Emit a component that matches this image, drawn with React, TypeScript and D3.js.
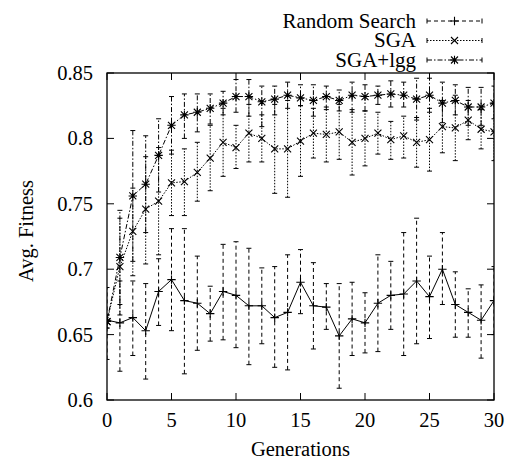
import React from "react";
import * as d3 from "d3";

const generations = [0,1,2,3,4,5,6,7,8,9,10,11,12,13,14,15,16,17,18,19,20,21,22,23,24,25,26,27,28,29,30];

const randomMean = [0.661,0.659,0.663,0.653,0.683,0.692,0.676,0.674,0.666,0.683,0.680,0.672,0.672,0.663,0.667,0.690,0.672,0.671,0.649,0.662,0.659,0.674,0.680,0.681,0.691,0.679,0.700,0.673,0.667,0.661,0.676];
const randomLow = [0.631,0.622,0.634,0.616,0.657,0.653,0.620,0.638,0.645,0.646,0.640,0.627,0.643,0.625,0.623,0.666,0.639,0.654,0.609,0.634,0.636,0.637,0.654,0.634,0.643,0.647,0.673,0.648,0.648,0.632,0.650];
const randomHigh = [0.686,0.691,0.691,0.689,0.708,0.731,0.731,0.710,0.687,0.719,0.721,0.716,0.701,0.702,0.711,0.715,0.705,0.689,0.689,0.690,0.682,0.711,0.706,0.728,0.739,0.710,0.728,0.698,0.685,0.688,0.702];

const sgaMean = [0.660,0.702,0.729,0.746,0.752,0.766,0.767,0.774,0.785,0.797,0.793,0.804,0.800,0.792,0.792,0.798,0.804,0.803,0.805,0.797,0.800,0.804,0.799,0.802,0.797,0.799,0.809,0.808,0.814,0.807,0.805];
const sgaLow = [0.655,0.665,0.695,0.704,0.711,0.741,0.741,0.752,0.760,0.771,0.777,0.782,0.782,0.758,0.755,0.771,0.785,0.782,0.784,0.772,0.779,0.788,0.784,0.785,0.778,0.775,0.789,0.783,0.799,0.792,0.783];
const sgaHigh = [0.665,0.739,0.762,0.786,0.793,0.791,0.792,0.797,0.810,0.823,0.810,0.826,0.818,0.826,0.829,0.825,0.823,0.824,0.826,0.822,0.821,0.820,0.813,0.817,0.816,0.823,0.829,0.833,0.829,0.822,0.827];

const lggMean = [0.660,0.709,0.756,0.765,0.787,0.810,0.818,0.820,0.823,0.827,0.832,0.832,0.828,0.830,0.833,0.831,0.829,0.832,0.829,0.833,0.832,0.833,0.834,0.833,0.830,0.833,0.827,0.829,0.824,0.824,0.827];
const lggLow = [0.655,0.673,0.706,0.728,0.759,0.788,0.800,0.805,0.811,0.818,0.820,0.817,0.809,0.818,0.823,0.825,0.817,0.822,0.821,0.820,0.821,0.826,0.824,0.824,0.814,0.820,0.812,0.818,0.810,0.810,0.815];
const lggHigh = [0.665,0.745,0.806,0.802,0.815,0.832,0.834,0.834,0.834,0.836,0.845,0.845,0.840,0.840,0.843,0.841,0.841,0.840,0.837,0.843,0.841,0.840,0.844,0.843,0.846,0.846,0.843,0.841,0.839,0.839,0.840];

const xTicks = [0, 5, 10, 15, 20, 25, 30];
const yTicks = [0.6, 0.65, 0.7, 0.75, 0.8, 0.85];
const yTickLabels = ["0.6", "0.65", "0.7", "0.75", "0.8", "0.85"];
const seriesNames = ["Random Search", "SGA", "SGA+lgg"];

const W = 505, H = 459;
const L = 107, R = 494, T = 73, B = 400;
const FONT = '"Liberation Serif", "Times New Roman", serif';
const FS = 20.5;

type Series = { name: string; mean: number[]; low: number[]; high: number[]; marker: string; lineDash: string | null; barDash: string; };

const series: Series[] = [
  { name: seriesNames[0], mean: randomMean, low: randomLow, high: randomHigh, marker: "plus", lineDash: null, barDash: "4,3" },
  { name: seriesNames[1], mean: sgaMean, low: sgaLow, high: sgaHigh, marker: "cross", lineDash: "1.5,1.5", barDash: "1.5,1.5" },
  { name: seriesNames[2], mean: lggMean, low: lggLow, high: lggHigh, marker: "star", lineDash: "5,2,1.5,2", barDash: "5,2,1.5,2" },
];

function Marker({ type, cx, cy }: { type: string; cx: number; cy: number }) {
  const s = 4.2, c = 3.5;
  const plus = `M${cx - s},${cy}H${cx + s}M${cx},${cy - s}V${cy + s}`;
  const cross = `M${cx - c},${cy - c}L${cx + c},${cy + c}M${cx - c},${cy + c}L${cx + c},${cy - c}`;
  let d = plus;
  if (type === "cross") d = cross;
  if (type === "star") d = plus + cross;
  return <path d={d} stroke="#000" strokeWidth={1.1} fill="none" />;
}

export default function App() {
  const x = d3.scaleLinear().domain([0, 30]).range([L, R]);
  const y = d3.scaleLinear().domain([0.6, 0.85]).range([B, T]);
  const tl = 7;
  const cap = 2.5;

  const line = (vals: number[]) =>
    d3.line<number>().x((_, i) => x(generations[i])).y((v) => y(v))(vals) || "";

  const legendX0 = 427, legendX1 = 482, legendTextX = 416;
  const legendY = [21, 40.5, 60];

  return (
    <svg width={W} height={H} style={{ position: "absolute", left: 0, top: 0, background: "#fff" }} fontFamily={FONT}>
      <rect x={0} y={0} width={W} height={H} fill="#fff" />
      <defs>
        <clipPath id="plotclip">
          <rect x={L} y={T} width={R - L} height={B - T} />
        </clipPath>
      </defs>

      <g clipPath="url(#plotclip)">
        {series.map((s, si) => (
          <g key={si}>
            {generations.map((g, i) => {
              const gx = x(g);
              return (
                <g key={i} stroke="#000" strokeWidth={1} fill="none">
                  <path d={`M${gx},${y(s.low[i])}V${y(s.high[i])}`} strokeDasharray={s.barDash} />
                  <path d={`M${gx - cap},${y(s.low[i])}H${gx + cap}M${gx - cap},${y(s.high[i])}H${gx + cap}`} />
                </g>
              );
            })}
            <path d={line(s.mean)} stroke="#000" strokeWidth={1} fill="none" strokeDasharray={s.lineDash ?? undefined} />
            {generations.map((g, i) => (
              <Marker key={i} type={s.marker} cx={x(g)} cy={y(s.mean[i])} />
            ))}
          </g>
        ))}
      </g>

      <rect x={L} y={T} width={R - L} height={B - T} fill="none" stroke="#000" strokeWidth={1.3} />
      {xTicks.map((t) => (
        <g key={"xt" + t}>
          <path d={`M${x(t)},${B}V${B - tl}M${x(t)},${T}V${T + tl}`} stroke="#000" strokeWidth={1} />
          <text x={x(t)} y={427} textAnchor="middle" fontSize={FS}>{t}</text>
        </g>
      ))}
      {yTicks.map((t, i) => (
        <g key={"yt" + t}>
          <path d={`M${L},${y(t)}H${L + tl}M${R},${y(t)}H${R - tl}`} stroke="#000" strokeWidth={1} />
          <text x={93} y={y(t) + 7} textAnchor="end" fontSize={FS}>{yTickLabels[i]}</text>
        </g>
      ))}

      <text x={(L + R) / 2} y={456} textAnchor="middle" fontSize={FS}>Generations</text>
      <text transform={`translate(33,231) rotate(-90)`} textAnchor="middle" fontSize={FS}>Avg. Fitness</text>

      {series.map((s, i) => {
        const ly = legendY[i];
        return (
          <g key={"lg" + i}>
            <text x={legendTextX} y={ly + 6.5} textAnchor="end" fontSize={21}>{s.name}</text>
            <path d={`M${legendX0},${ly}H${legendX1}`} stroke="#000" strokeWidth={1} strokeDasharray={s.barDash} />
            <path d={`M${legendX0},${ly - 2.5}V${ly + 2.5}M${legendX1},${ly - 2.5}V${ly + 2.5}`} stroke="#000" strokeWidth={1} />
            <Marker type={s.marker} cx={(legendX0 + legendX1) / 2} cy={ly} />
          </g>
        );
      })}
    </svg>
  );
}
